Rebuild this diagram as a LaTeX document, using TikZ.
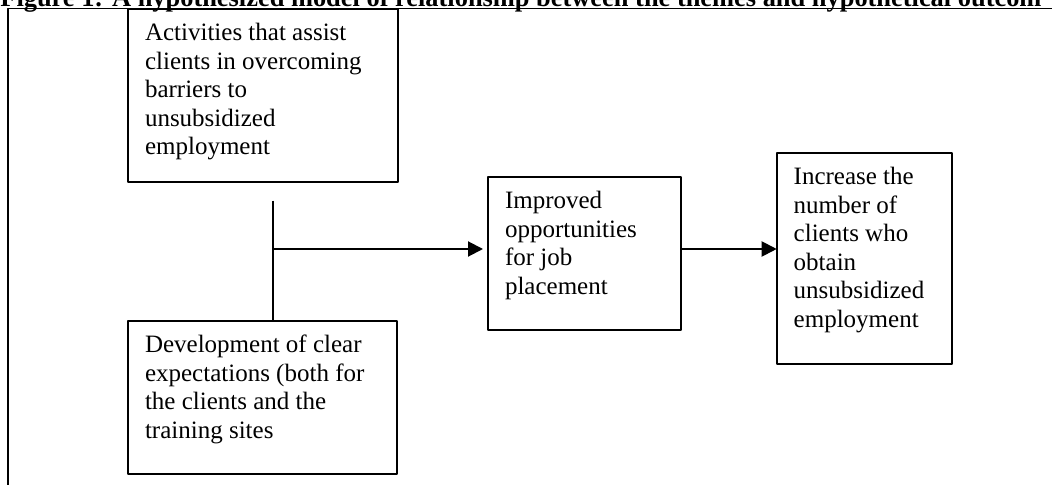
\documentclass[tikz,border=0pt]{standalone}
\usepackage{fontspec}
\setmainfont{Liberation Serif}
\usetikzlibrary{arrows.meta}
\tikzset{
  themebox/.style={draw, line width=1pt, anchor=north west, inner xsep=8.5pt, inner ysep=6pt, outer sep=0pt},
  flow/.style={line width=1pt, -{Triangle[length=7.5pt,width=7.5pt]}},
}
% text of a box: width, height, lines
\newcommand{\boxtext}[3]{\parbox[t][#2][t]{#1}{\raggedright\strut #3}}
\begin{document}
\begin{tikzpicture}[x=0.5pt, y=-0.5pt, font=\fontsize{12.5pt}{14.25pt}\selectfont, line join=round]
	\useasboundingbox (0,0) rectangle (1052,485);
	\clip (0,0) rectangle (1052,485);
	\node[anchor=base west, inner sep=0pt, font=\fontsize{13.2pt}{14.25pt}\selectfont\bfseries] (title) at (0,6.5) {Figure 1: A hypothesized model of relationship between the themes and hypothetical outcom};
	\draw[line width=0.6pt] (1052,8.5) -- (8,8.5) -- (8,485);
	% the four boxes
	\node[themebox] (acts) at (128,9) {\boxtext{118pt}{74.5pt}{Activities that assist\\ clients in overcoming\\ barriers to\\ unsubsidized\\ employment}};
	\node[themebox] (expect) at (128,321) {\boxtext{117.5pt}{64.5pt}{Development of clear\\ expectations (both for\\ the clients and the\\ training sites}};
	\node[themebox] (oppor) at (488,177) {\boxtext{79.5pt}{64.5pt}{Improved\\ opportunities\\ for job\\ placement}};
	\node[themebox] (outcome) at (776.7,152.7) {\boxtext{70.5pt}{93.5pt}{Increase the\\ number of\\ clients who\\ obtain\\ unsubsidized\\ employment}};
	% connectors
	\coordinate (join) at (273,200.7);
	\coordinate (split) at (273,249);
	\draw[line width=1pt] (join) -- (join |- expect.north);
	\draw[flow, shorten >=2.5pt] (split) -- (split -| oppor.west);
	\draw[flow] (split -| oppor.east) -- (split -| outcome.west);
\end{tikzpicture}
\end{document}
